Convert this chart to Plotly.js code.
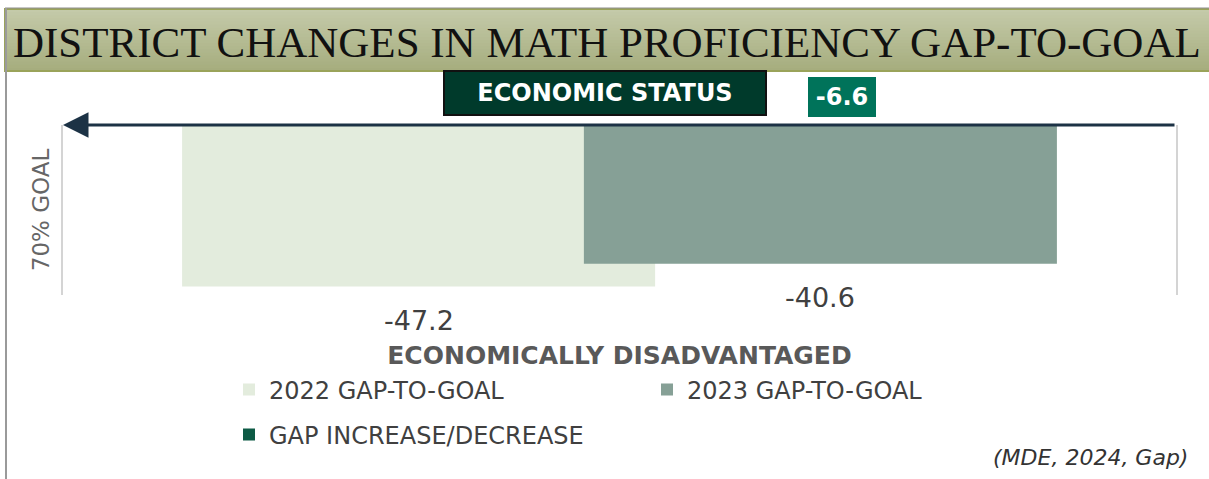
<!DOCTYPE html>
<html>
<head>
<meta charset="utf-8">
<script src="https://cdn.plot.ly/plotly-3.0.1.min.js"></script>
<style>html,body{margin:0;padding:0;background:#fff;}#chart{width:1209px;height:479px;}</style>
</head>
<body>
<div id="chart"></div>
<script>
// ---- data ----
const categories = ["ECONOMICALLY DISADVANTAGED"];
const seriesNames = ["2022 GAP-TO-GOAL", "2023 GAP-TO-GOAL", "GAP INCREASE/DECREASE"];
const gap2022 = [-47.2];
const gap2023 = [-40.6];
const gapChange = [-6.6];
const chartTitle = "DISTRICT CHANGES IN MATH PROFICIENCY GAP-TO-GOAL";
const groupTitle = "ECONOMIC STATUS";
const axisTitle = "70% GOAL";
const sourceNote = "(MDE, 2024, Gap)";

// ---- layout helpers (pixel -> paper) ----
const W = 1209, H = 479;
const M = {l: 63, r: 33, t: 125, b: 184};
const PW = W - M.l - M.r, PH = H - M.t - M.b;
const px = x => (x - M.l) / PW;
const py = y => (H - M.b - y) / PH;

const bar1 = {offset: -0.393, width: 0.425};
const bar2 = {offset: -0.032, width: 0.425};

const traces = [
  {type: 'bar', name: seriesNames[0], x: categories, y: gap2022,
   offset: bar1.offset, width: bar1.width, marker: {color: '#e3ecdd'},
   legend: 'legend', hoverinfo: 'skip'},
  {type: 'bar', name: seriesNames[1], x: categories, y: gap2023,
   offset: bar2.offset, width: bar2.width, marker: {color: '#86a096'},
   legend: 'legend', hoverinfo: 'skip'},
  {type: 'bar', name: seriesNames[2], x: categories, y: gapChange,
   yaxis: 'y2', marker: {color: '#0d5a45'}, legend: 'legend2', hoverinfo: 'skip'}
];

const shapes = [];
// banner gradient
const c1 = [196, 202, 169], c2 = [166, 173, 126];
const N = 20, bTop = 9, bBot = 71;
for (let i = 0; i < N; i++) {
  const t = i / (N - 1);
  const c = c1.map((v, k) => Math.round(v + (c2[k] - v) * t));
  const yA = bTop + (bBot - bTop) * i / N;
  const yB = Math.min(bBot, bTop + (bBot - bTop) * (i + 1) / N + 1.5);
  shapes.push({type: 'rect', xref: 'paper', yref: 'paper', layer: 'below',
    x0: px(5), x1: px(1215), y0: py(yA), y1: py(yB),
    fillcolor: `rgb(${c.join(',')})`, line: {width: 0, color: 'rgba(0,0,0,0)'}});
}
shapes.push({type: 'rect', xref: 'paper', yref: 'paper', x0: px(5), x1: px(1215), y0: py(bTop), y1: py(bBot),
  line: {color: '#9aa35a', width: 2}, fillcolor: 'rgba(0,0,0,0)'});
shapes.push({type: 'line', xref: 'paper', yref: 'paper', x0: px(5), x1: px(1215), y0: py(8), y1: py(8),
  line: {color: '#8f8f8f', width: 1}});
shapes.push({type: 'line', xref: 'paper', yref: 'paper', x0: px(6), x1: px(6), y0: py(8), y1: py(479),
  line: {color: '#9a9a9a', width: 2}});

const annotations = [
  {text: chartTitle, xref: 'paper', yref: 'paper', x: px(607), y: py(42), xanchor: 'center', yanchor: 'middle',
   showarrow: false, font: {family: 'Liberation Serif', size: 43, color: '#111'}},
  {text: '<b>' + groupTitle + '</b>', xref: 'paper', yref: 'paper', x: px(605), y: py(93),
   xanchor: 'center', yanchor: 'middle', showarrow: false,
   width: 318, height: 40, bgcolor: '#003a2b', bordercolor: '#111', borderwidth: 2,
   font: {family: 'DejaVu Sans', size: 24, color: '#fff'}},
  {text: '<b>' + gapChange[0].toFixed(1) + '</b>', xref: 'paper', yref: 'paper', x: px(842), y: py(97),
   xanchor: 'center', yanchor: 'middle', showarrow: false,
   width: 66, height: 38, bgcolor: '#00735a', borderwidth: 0,
   font: {family: 'DejaVu Sans', size: 24, color: '#fff'}},
  // goal arrow
  {text: '', xref: 'paper', yref: 'paper', x: 0, y: 1, ax: PW, ay: 0, axref: 'pixel', ayref: 'pixel',
   showarrow: true, arrowhead: 2, arrowsize: 1.7, arrowwidth: 3, arrowcolor: '#1c3245', standoff: 0},
  {text: sourceNote, xref: 'paper', yref: 'paper', x: px(1190), y: py(457), xanchor: 'right', yanchor: 'middle',
   showarrow: false, font: {family: 'DejaVu Sans', size: 22, color: '#333', style: 'italic'}}
];
// value labels below bar ends
[[gap2022, bar1], [gap2023, bar2]].forEach(([vals, b]) => {
  vals.forEach((v, i) => {
    annotations.push({text: v.toFixed(1), x: i + b.offset + b.width / 2, y: v, xref: 'x', yref: 'y',
      xanchor: 'center', yanchor: 'middle', yshift: -34, showarrow: false,
      font: {family: 'DejaVu Sans', size: 27, color: '#404040'}});
  });
});

const layout = {
  width: W, height: H, margin: M,
  paper_bgcolor: '#fff', plot_bgcolor: 'rgba(0,0,0,0)',
  barmode: 'overlay', showlegend: true,
  xaxis: {type: 'category', range: [-0.5, 0.5], showgrid: false, zeroline: false, showline: false,
    ticks: '', ticklabelstandoff: 43,
    tickfont: {family: 'DejaVu Sans', size: 25, color: '#595959', weight: 'bold'}},
  yaxis: {range: [-49.7, 0], showgrid: false, zeroline: false, showticklabels: false, ticks: '',
    showline: true, mirror: true, linecolor: '#d4d4d4', linewidth: 2,
    title: {text: axisTitle, standoff: 5, font: {family: 'DejaVu Sans', size: 23, color: '#666'}}},
  yaxis2: {overlaying: 'y', range: [0, 1], visible: false},
  legend: {orientation: 'h', x: px(229), y: py(390), xanchor: 'left', yanchor: 'middle',
    entrywidth: 373, entrywidthmode: 'pixels', traceorder: 'normal',
    font: {family: 'DejaVu Sans', size: 24, color: '#404040'}, bgcolor: 'rgba(0,0,0,0)'},
  legend2: {orientation: 'h', x: px(229), y: py(435), xanchor: 'left', yanchor: 'middle',
    font: {family: 'DejaVu Sans', size: 24, color: '#404040'}, bgcolor: 'rgba(0,0,0,0)'},
  shapes: shapes, annotations: annotations
};

Plotly.newPlot('chart', traces, layout, {displayModeBar: false, staticPlot: true});
</script>
</body>
</html>
